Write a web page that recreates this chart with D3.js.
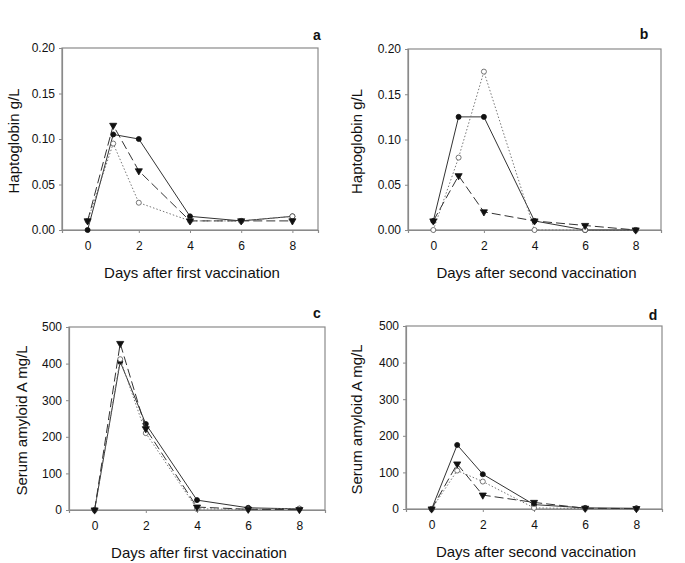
<!DOCTYPE html>
<html>
  <meta charset="utf-8">
  <head>
    <script src="https://d3js.org/d3.v7.min.js"></script>
    <style>
      body { margin: 0; background: #fff; }
      text { font-family: "Liberation Sans", Arial, sans-serif; fill: #111; }
    </style>
  </head>
  <body>
    <div id="viz"></div>
    <script type="text/javascript">
      // days sampled
      var days = [0, 1, 2, 4, 6, 8];
      var xTicks = [0, 2, 4, 6, 8];

      // panel a - haptoglobin, first vaccination
      var aFilled = [0.000, 0.105, 0.100, 0.015, 0.010, 0.015];
      var aOpen = [0.010, 0.095, 0.030, 0.010, 0.010, 0.015];
      var aTri = [0.010, 0.115, 0.065, 0.010, 0.010, 0.010];

      // panel b - haptoglobin, second vaccination
      var bFilled = [0.010, 0.125, 0.125, 0.010, 0.000, 0.000];
      var bOpen = [0.000, 0.080, 0.175, 0.000, 0.000, 0.000];
      var bTri = [0.010, 0.060, 0.020, 0.010, 0.005, 0.000];

      // panel c - SAA, first vaccination
      var cFilled = [0, 405, 235, 27, 6, 3];
      var cOpen = [0, 412, 210, 3, 2, 4];
      var cTri = [0, 455, 222, 8, 2, 1];

      // panel d - SAA, second vaccination
      var dFilled = [0, 175, 95, 12, 3, 2];
      var dOpen = [0, 105, 75, 3, 1, 1];
      var dTri = [0, 123, 38, 18, 2, 1];

      var hpTicks = [0, 0.05, 0.10, 0.15, 0.20];
      var saaTicks = [0, 100, 200, 300, 400, 500];

      var panels = [
        {letter: "a", box: [62, 48, 318, 230], lx: 19, lblX: 317, lblY: 40, xlab: "Days after first vaccination", ylab: "Haptoglobin g/L",
         yMax: 0.20, yTicks: hpTicks, fmt: d3.format(".2f"), s: [aFilled, aOpen, aTri]},
        {letter: "b", box: [408, 49, 661, 230], lx: 362, lblX: 644, lblY: 39, xlab: "Days after second vaccination", ylab: "Haptoglobin g/L",
         yMax: 0.20, yTicks: hpTicks, fmt: d3.format(".2f"), s: [bFilled, bOpen, bTri]},
        {letter: "c", box: [69, 327, 325, 510], lx: 27, lblX: 317, lblY: 318, xlab: "Days after first vaccination", ylab: "Serum amyloid A mg/L",
         yMax: 500, yTicks: saaTicks, fmt: d3.format("d"), s: [cFilled, cOpen, cTri]},
        {letter: "d", box: [406, 326, 662, 509], lx: 362, lblX: 653, lblY: 320, xlab: "Days after second vaccination", ylab: "Serum amyloid A mg/L",
         yMax: 500, yTicks: saaTicks, fmt: d3.format("d"), s: [dFilled, dOpen, dTri]}
      ];

      var styles = [
        {dash: null, marker: "filled"},
        {dash: "1.5,2", marker: "open"},
        {dash: "9,4", marker: "tri"}
      ];

      var svg = d3.select("#viz").append("svg")
        .attr("width", 685)
        .attr("height", 563);

      var axisColor = "#8a8a8a";
      var lineColor = "#333";

      panels.forEach(function(p) {
        var x0 = p.box[0], y0 = p.box[1], x1 = p.box[2], y1 = p.box[3];
        var x = d3.scaleLinear().domain([-1, 9]).range([x0, x1]);
        var y = d3.scaleLinear().domain([0, p.yMax]).range([y1, y0]);
        var g = svg.append("g");

        // frame
        g.append("rect")
          .attr("x", x0).attr("y", y0)
          .attr("width", x1 - x0).attr("height", y1 - y0)
          .attr("fill", "none").attr("stroke", axisColor).attr("stroke-width", 1.2);

        // axes
        var xa = g.append("g")
          .attr("transform", "translate(0," + y1 + ")")
          .call(d3.axisBottom(x).tickValues(xTicks).tickSize(3).tickPadding(8).tickFormat(d3.format("d")));
        var ya = g.append("g")
          .attr("transform", "translate(" + x0 + ",0)")
          .call(d3.axisLeft(y).tickValues(p.yTicks).tickSize(3).tickPadding(4).tickFormat(p.fmt));
        [xa, ya].forEach(function(a) {
          a.select(".domain").attr("stroke", axisColor).attr("stroke-width", 1.2);
          a.selectAll(".tick line").attr("stroke", axisColor);
          a.selectAll(".tick text").style("font-size", "12px").attr("fill", "#111")
            .style("font-family", "'Liberation Sans', Arial, sans-serif");
        });

        // labels
        g.append("text")
          .attr("x", (x0 + x1) / 2 + 2).attr("y", y1 + 48)
          .attr("text-anchor", "middle").style("font-size", "15px")
          .text(p.xlab);
        g.append("text")
          .attr("transform", "translate(" + p.lx + "," + ((y0 + y1) / 2 + 2) + ") rotate(-90)")
          .attr("text-anchor", "middle").style("font-size", "15px")
          .text(p.ylab);
        g.append("text")
          .attr("x", p.lblX).attr("y", p.lblY)
          .attr("text-anchor", "middle").style("font-size", "14px").style("font-weight", "bold")
          .text(p.letter);

        // series
        p.s.forEach(function(vals, i) {
          var st = styles[i];
          var pts = days.map(function(d, k) { return [d, vals[k]]; });
          var line = d3.line().x(function(d) { return x(d[0]); }).y(function(d) { return y(d[1]); });
          g.append("path")
            .attr("d", line(pts))
            .attr("fill", "none")
            .attr("stroke", i === 1 ? "#777" : lineColor)
            .attr("stroke-width", 1)
            .attr("stroke-dasharray", st.dash);

          var sym = st.marker === "tri" ? d3.symbolTriangle : d3.symbolCircle;
          var size = st.marker === "tri" ? 22 : 20;
          g.selectAll(null)
            .data(pts)
            .enter()
            .append("path")
              .attr("d", d3.symbol().type(sym).size(size))
              .attr("transform", function(d) {
                return "translate(" + x(d[0]) + "," + y(d[1]) + ")" + (st.marker === "tri" ? " rotate(180)" : "");
              })
              .attr("fill", st.marker === "open" ? "#fff" : "#111")
              .attr("stroke", st.marker === "open" ? "#555" : "#111")
              .attr("stroke-width", 0.8);
        });
      });
    </script>
  </body>
</html>
